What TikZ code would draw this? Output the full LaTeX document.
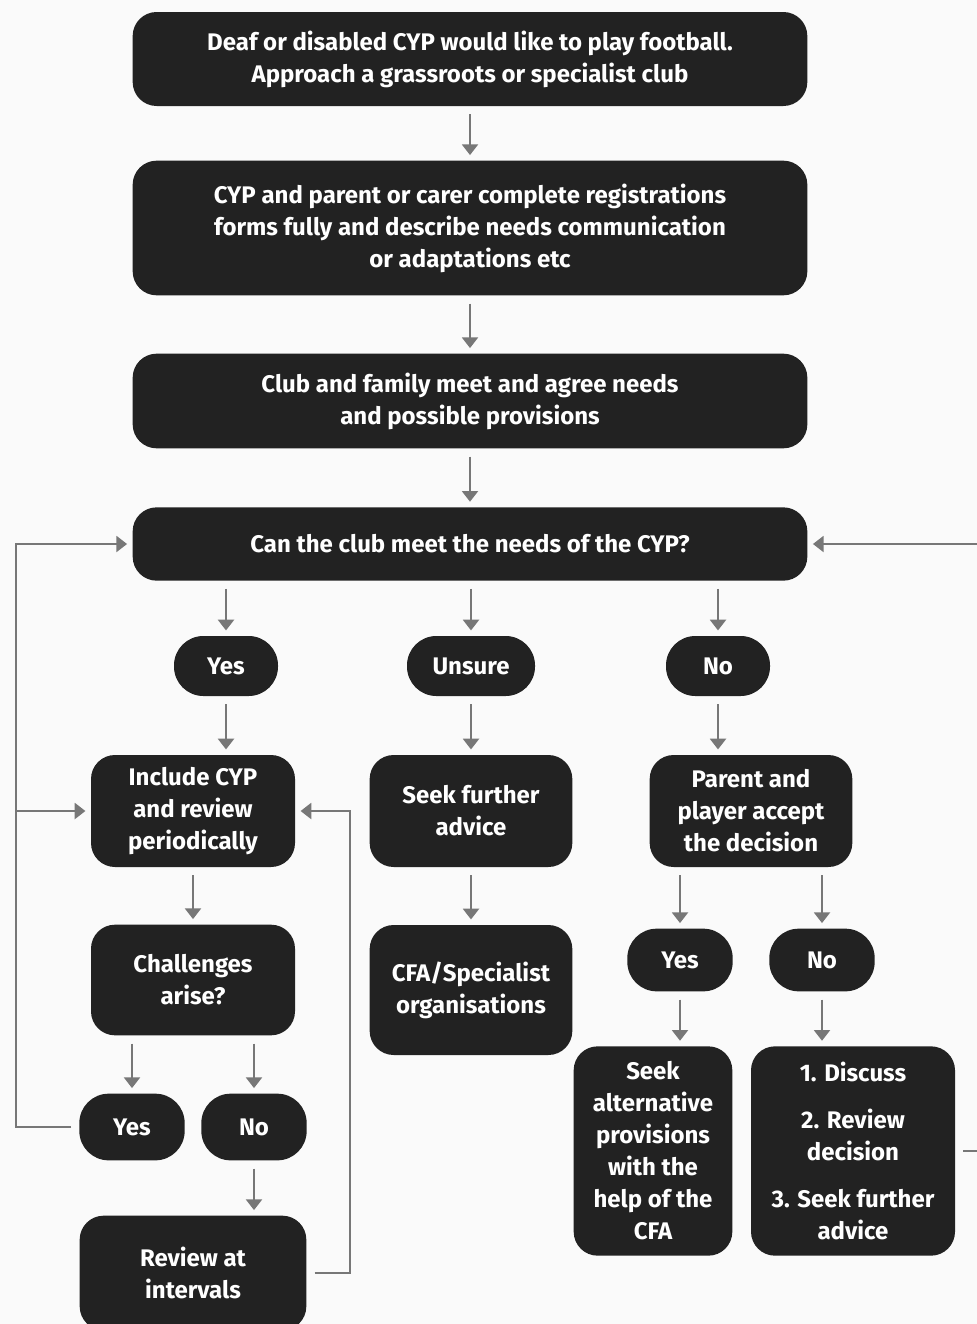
\documentclass[tikz,border=0pt]{standalone}
\usepackage{fontspec}
\setmainfont{Fira Sans}
\usepackage{tikz}
\usetikzlibrary{arrows.meta}
\definecolor{boxc}{HTML}{222222}
\definecolor{linec}{HTML}{777777}
\definecolor{bgc}{HTML}{FAFAFA}

\begin{document}
\begin{tikzpicture}[x=0.75pt,y=-0.75pt]
      \useasboundingbox(0,0) rectangle (977,1324);
      \clip(0,0) rectangle (977,1324);
      \fill[bgc](0,0) rectangle (977,1324);
      \tikzset{B/.style = {draw=none, fill=boxc, text=white, align=center, inner sep=0pt,
          rounded corners=18pt, font=\fontsize{18}{24}\selectfont\bfseries}}
      \tikzset{P/.style = {B, rounded corners=22pt}}
      \tikzset{E/.style = {draw=linec, line width=1.5pt, -{Triangle[length=8pt,width=12pt]},
          shorten <=6pt, shorten >=4pt}}
      \node[B,minimum width=506pt,minimum height=70.5pt](start) at (470,59)
        {Deaf or disabled CYP would like to play football.\\Approach a grassroots or specialist club};
      \node[B,minimum width=506pt,minimum height=101pt](reg) at (470,228)
        {CYP and parent or carer complete registrations\\forms fully and describe needs communication\\or adaptations etc};
      \node[B,minimum width=506pt,minimum height=71pt](meet) at (470,401)
        {Club and family meet and agree needs\\and possible provisions};
      \node[B,minimum width=506pt,minimum height=55pt](q) at (470,544)
        {Can the club meet the needs of the CYP?};
      \node[P,minimum width=78pt,minimum height=45pt](yes) at (226,666) {Yes};
      \node[P,minimum width=96pt,minimum height=45pt](unsure) at (471,666) {Unsure};
      \node[P,minimum width=78pt,minimum height=45pt](no) at (718,666) {No};
      \node[B,minimum width=153pt,minimum height=84pt](inc) at (193,811)
        {Include CYP\\and review\\periodically};
      \node[B,minimum width=152pt,minimum height=84pt](seek) at (471,811)
        {Seek further\\advice};
      \node[B,minimum width=152pt,minimum height=84pt](acc) at (751,811)
        {Parent and\\player accept\\the decision};
      \node[B,minimum width=153pt,minimum height=83pt](chal) at (193,980)
        {Challenges\\arise?};
      \node[B,minimum width=152pt,minimum height=97.5pt](cfa) at (471,990)
        {CFA/Specialist\\organisations};
      \node[P,minimum width=79pt,minimum height=47pt](yes2) at (680,960) {Yes};
      \node[P,minimum width=79pt,minimum height=47pt](no2) at (822,960) {No};
      \node[B,minimum width=119pt,minimum height=157pt](alt) at (653,1151)
        {Seek\\alternative\\provisions\\with the\\help of the\\CFA};
      \node[B,minimum width=153pt,minimum height=157pt](dis) at (853,1151)
        {1. Discuss\\[11pt]2. Review\\decision\\[11pt]3. Seek further\\advice};
      \node[P,minimum width=79pt,minimum height=50pt](yes3) at (132,1127) {Yes};
      \node[P,minimum width=79pt,minimum height=50pt](no3) at (254,1127) {No};
      \node[B,minimum width=170pt,minimum height=86pt](rev) at (193,1273)
        {Review at\\intervals};
      \coordinate (lft) at (16,0);
      \coordinate (rgt) at (350,0);
      \coordinate (far) at (995,0);
      % main column
      \draw[E](start) to (reg);
      \draw[E](reg) to (meet);
      \draw[E](meet) to (q);
      \draw[E](yes |- q.south) to (yes);
      \draw[E](unsure |- q.south) to (unsure);
      \draw[E](no |- q.south) to (no);
      \draw[E](yes.south) to (yes.south |- inc.north);
      \draw[E](unsure) to (seek);
      \draw[E](no.south) to (no.south |- acc.north);
      \draw[E](inc) to (chal);
      \draw[E](seek) to (cfa);
      \draw[E](yes2 |- acc.south) to (yes2);
      \draw[E](no2 |- acc.south) to (no2);
      \draw[E](yes2.south) to (yes2.south |- alt.north);
      \draw[E](no2.south) to (no2.south |- dis.north);
      \draw[E](yes3 |- chal.south) to (yes3);
      \draw[E](no3 |- chal.south) to (no3);
      \draw[E](no3) to (no3 |- rev.north);
      % loops
      \draw[E](yes3.west) -| (lft |- q) -- (q.west);
      \draw[E,shorten <=0pt](lft |- inc) -- (inc.west);
      \draw[E](rev.east) -| (rgt |- inc) -- (inc.east);
      \draw[E](dis.east) -| (far |- q) -- (q.east);
    \end{tikzpicture}
\end{document}
